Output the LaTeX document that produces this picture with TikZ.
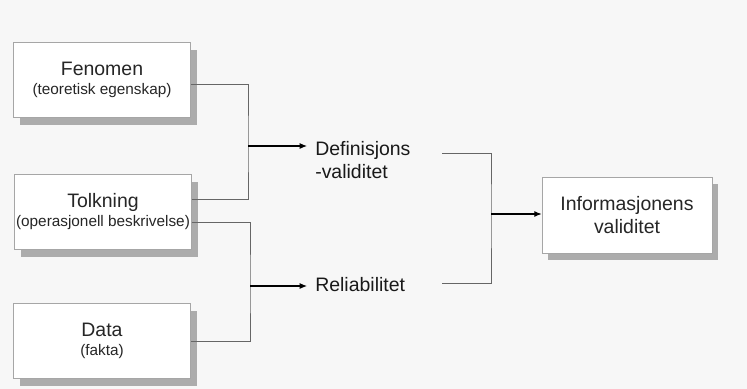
\documentclass[tikz,border=0pt]{standalone}
\usepackage{fontspec}
\setmainfont{Liberation Sans}
\usetikzlibrary{arrows.meta,shadows}
\newcommand\bigtxt{\fontsize{14.6}{17.25}\selectfont}
\newcommand\smalltxt{\fontsize{11.5}{13}\selectfont}
\begin{document}
\begin{tikzpicture}[x=0.75pt,y=-0.75pt,
  box/.style={draw=gray!70,line width=0.5pt,fill=white,text=black!85,
    minimum width=132.75pt,minimum height=56.25pt,inner sep=0pt,align=center,font=\bigtxt,
    drop shadow={shadow xshift=4.5pt,shadow yshift=-5.25pt,fill=gray!65,opacity=1}},
  bracket/.style={draw=gray!80!black,line width=0.6pt},
  arr/.style={draw=black,line width=0.8pt,-{Latex[length=5.5pt,width=4.5pt]}},
  lbl/.style={anchor=west,inner xsep=6pt,inner ysep=0pt,align=left,font=\bigtxt,text=black!90}]
\fill[gray!6] (0,0) rectangle (747,389);
\node[box] (fen) at (102,80) {Fenomen\\[-3pt]{\smalltxt (teoretisk egenskap)}};
\node[box] (tol) at (103,212) {Tolkning\\[-3pt]{\smalltxt (operasjonell beskrivelse)}};
\node[box] (dat) at (102,341) {Data\\[-3pt]{\smalltxt (fakta)}};
\node[box,minimum width=127.5pt,minimum height=57pt] (info) at (627,215) {Informasjonens\\validitet};
\node[lbl] (def) at (307,160) {Definisjons\\-validitet};
\node[lbl] (rel) at (307,285) {Reliabilitet};
\coordinate (j1) at (248,146);
\coordinate (j2) at (250,286);
\coordinate (j3) at (491,214);
\coordinate (t3) at (442,153);
\coordinate (b3) at (442,283);
\draw[bracket] ([yshift=-3pt]fen.east) -| (j1) |- ([yshift=9.75pt]tol.east);
\draw[bracket] ([yshift=-7.5pt]tol.east) -| (j2) |- (dat.east);
\draw[bracket] (t3) -| (j3) |- (b3);
\draw[arr] (j1) -- (j1 -| def.west);
\draw[arr] (j2) -- (j2 -| rel.west);
\draw[arr] (j3) -- (j3 -| info.west);
\end{tikzpicture}
\end{document}
